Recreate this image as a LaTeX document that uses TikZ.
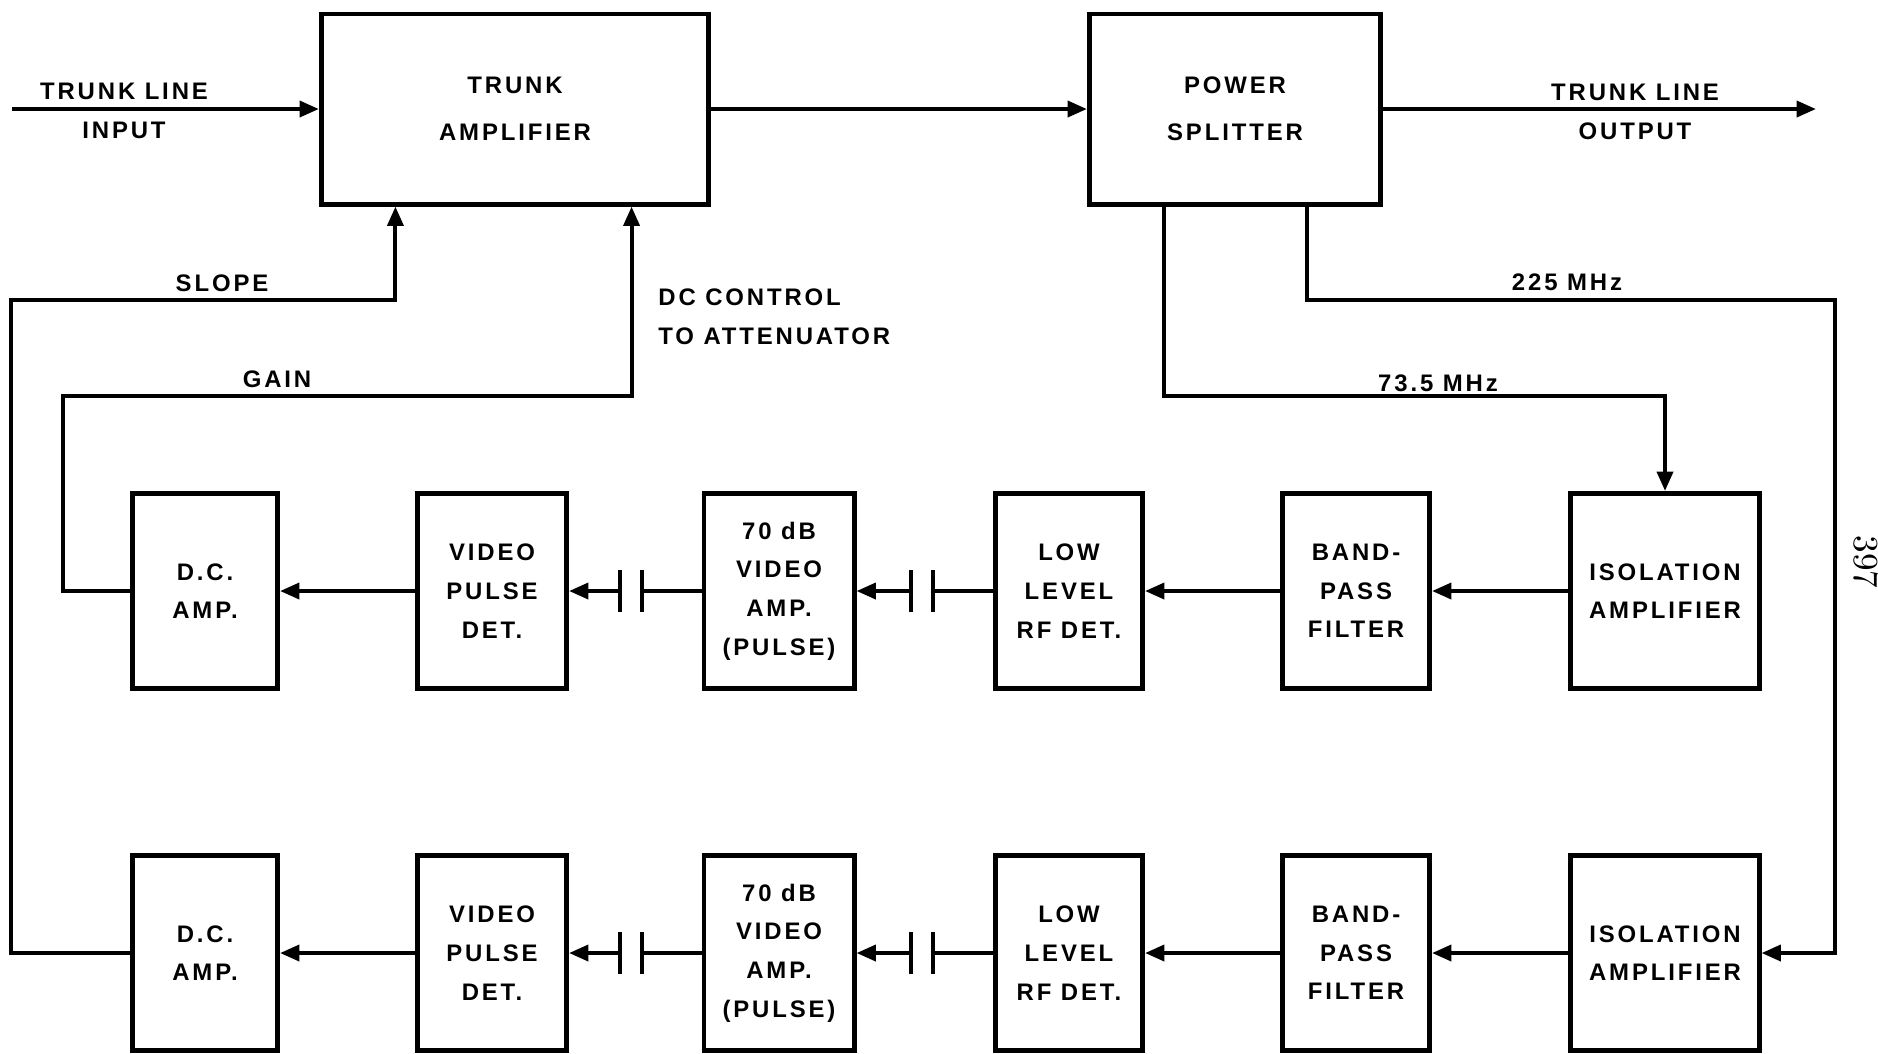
\documentclass[tikz,border=0pt]{standalone}
\usepackage{fontspec}
\usepackage{tikz}
\usetikzlibrary{positioning,calc,arrows.meta}
\newfontfamily\lettering{Liberation Sans}[LetterSpace=12]

\begin{document}
\begin{tikzpicture}[x=0.01cm,y=-0.01cm,
  font=\lettering\bfseries\fontsize{6.8}{11}\selectfont,
  blk/.style={draw,line width=1.4pt,align=center,inner sep=0pt,minimum height=1.95cm},
  wire/.style={line width=1.15pt},
  arr/.style={wire,-{Triangle[length=5.5pt,width=4.5pt]}},
  capgap/.style={inner sep=0pt,minimum width=0.2cm,minimum height=0.4cm}]
\useasboundingbox (0,0) rectangle (1878,1053);
\node[blk,minimum width=3.87cm,minimum height=1.9cm] (ta) at (515,109) {TRUNK\\[2.4pt]AMPLIFIER};
\node[blk,minimum width=2.91cm,minimum height=1.9cm] (ps) at (1235,109) {POWER\\[2.4pt]SPLITTER};
\coordinate (tin) at (12,109);
\coordinate (tout) at (1816,109);
\draw[arr] (tin) -- (ta);
\draw[arr] (ta) -- (ps);
\draw[arr] (ps) -- (tout);
\node[align=center] (inlbl) at (124,111) {TRUNK LINE\\INPUT};
\node[align=center] (outlbl) at (1635,112) {TRUNK LINE\\OUTPUT};
\foreach \r/\y in {1/591,2/953} {
  \node[blk,minimum width=1.45cm] (dc\r) at (205,\y) {D.C.\\AMP.};
  \node[blk,minimum width=1.49cm] (vpd\r) at (492,\y) {VIDEO\\PULSE\\DET.};
  \node[blk,minimum width=1.5cm] (va\r) at (779,\y) {70 dB\\VIDEO\\AMP.\\(PULSE)};
  \node[blk,minimum width=1.47cm] (rf\r) at (1069,\y) {LOW\\LEVEL\\RF DET.};
  \node[blk,minimum width=1.47cm] (bp\r) at (1356,\y) {BAND-\\PASS\\FILTER};
  \node[blk,minimum width=1.88cm] (iso\r) at (1665,\y) {ISOLATION\\AMPLIFIER};
  \node[capgap] (ka\r) at (631,\y) {};
  \node[capgap] (kb\r) at (922,\y) {};
  \draw[wire] (ka\r.north west) -- (ka\r.south west) (ka\r.north east) -- (ka\r.south east);
  \draw[wire] (kb\r.north west) -- (kb\r.south west) (kb\r.north east) -- (kb\r.south east);
  \draw[arr] (iso\r) -- (bp\r);
  \draw[arr] (bp\r) -- (rf\r);
  \draw[wire] (rf\r) -- (kb\r.east);
  \draw[arr] (kb\r.west) -- (va\r);
  \draw[wire] (va\r) -- (ka\r.east);
  \draw[arr] (ka\r.west) -- (vpd\r);
  \draw[arr] (vpd\r) -- (dc\r);
}
\coordinate (sl) at (11,300);
\coordinate (gn) at (63,396);
\coordinate (m73) at (1665,396);
\coordinate (m225) at (1835,300);
\draw[arr] (dc2.west) -| (sl) -| ([xshift=-1.195cm]ta.south);
\draw[arr] (dc1.west) -| (gn) -| ([xshift=1.165cm]ta.south);
\draw[arr] ([xshift=-0.705cm]ps.south) |- (m73) -- (iso1.north);
\draw[arr] ([xshift=0.715cm]ps.south) |- (m225) |- (iso2.east);
\node (slope) at (222,283) {SLOPE};
\node (gain) at (277,379) {GAIN};
\node[anchor=west,align=left] (dcc) at (646,317) {DC CONTROL\\TO ATTENUATOR};
\node (f225) at (1567,282) {225 MHz};
\node (f73) at (1438,383) {73.5 MHz};
\node[rotate=-90,font=\rmfamily\mdseries\fontsize{10}{12}\selectfont] (pg) at (1866,562) {397};
\end{tikzpicture}
\end{document}
